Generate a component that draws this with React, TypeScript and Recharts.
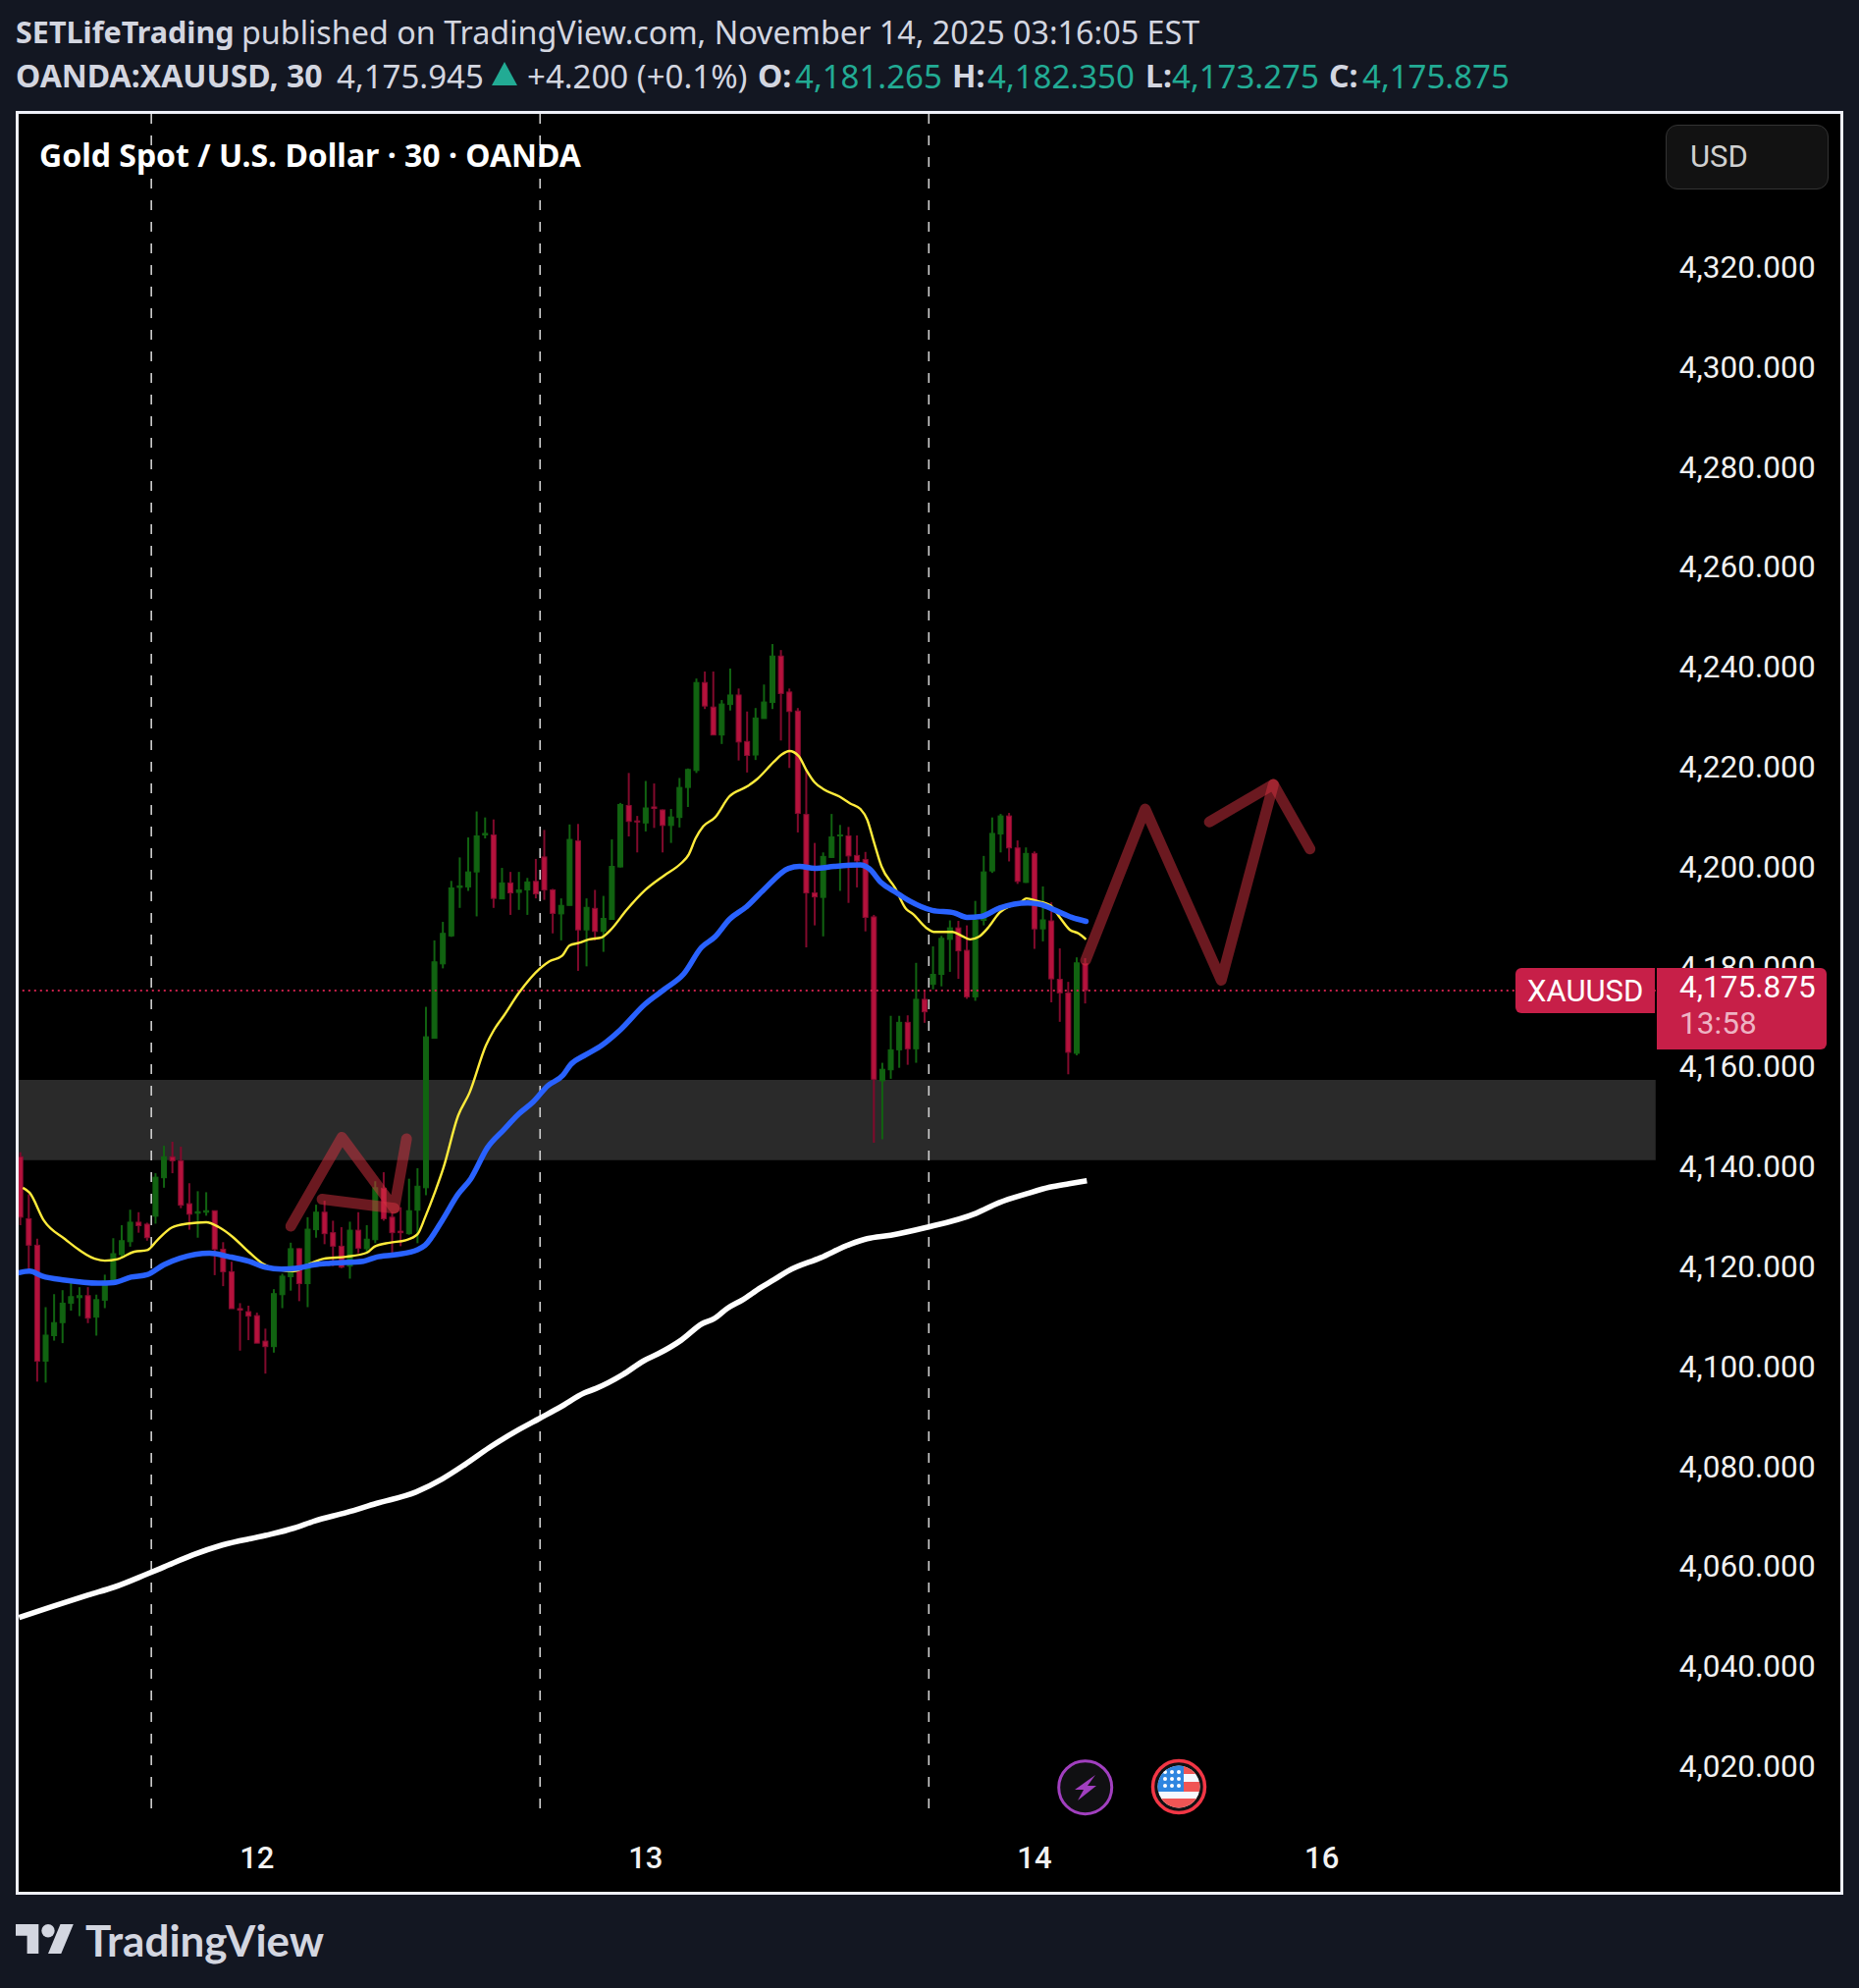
import React from "react";
import {
  Bar,
  ComposedChart,
  Line,
  ReferenceArea,
  ReferenceLine,
  XAxis,
  YAxis,
} from "recharts";

const opens = [
  4142.6, 4130.2, 4124.9, 4101.7, 4106.8, 4109.4, 4113.3, 4114.4, 4114.8, 4110.5,
  4113.9, 4117.7, 4123.0, 4125.6, 4129.5, 4129.1, 4130.7, 4138.4, 4142.6, 4141.8,
  4133.2, 4131.3, 4131.5, 4131.8, 4124.1, 4119.6, 4112.2, 4111.6, 4110.8, 4105.7,
  4104.6, 4115.0, 4118.6, 4124.2, 4117.2, 4128.0, 4131.5, 4127.4, 4124.7, 4120.7,
  4127.9, 4124.2, 4126.0, 4136.3, 4130.5, 4127.7, 4127.2, 4131.9, 4136.4, 4166.3,
  4181.2, 4186.8, 4196.5, 4196.6, 4199.6, 4207.0, 4207.0, 4194.2, 4197.4, 4195.5,
  4196.0, 4197.7, 4202.6, 4196.0, 4191.2, 4192.9, 4205.8, 4188.0, 4192.3, 4187.7,
  4190.1, 4200.6, 4212.9, 4209.8, 4209.4, 4212.6, 4212.0, 4208.9, 4210.5, 4216.5,
  4219.9, 4237.5, 4232.6, 4227.0, 4233.1, 4235.0, 4225.7, 4223.0, 4230.3, 4233.5,
  4242.8, 4235.6, 4231.8, 4211.1, 4195.4, 4194.5, 4202.5, 4206.8, 4206.8, 4202.9,
  4202.1, 4190.6, 4157.8, 4160.0, 4164.0, 4169.5, 4164.2, 4174.1, 4177.1, 4179.1,
  4186.1, 4188.4, 4183.9, 4174.6, 4189.9, 4199.8, 4207.2, 4210.8, 4204.4, 4197.5,
  4203.3, 4188.2, 4189.8, 4178.1, 4175.4, 4163.3, 4181.265,
];
const highs = [
  4143.5, 4135.1, 4126.2, 4112.5, 4115.1, 4115.9, 4118.1, 4116.5, 4116.5, 4115.0,
  4119.0, 4126.3, 4128.9, 4132.0, 4131.5, 4129.4, 4139.3, 4144.8, 4145.6, 4144.6,
  4137.3, 4135.7, 4135.5, 4131.8, 4125.5, 4121.6, 4113.3, 4112.8, 4111.4, 4108.2,
  4116.1, 4119.2, 4125.4, 4124.3, 4130.5, 4133.0, 4133.8, 4129.8, 4128.5, 4129.6,
  4131.5, 4128.9, 4137.7, 4139.5, 4131.5, 4132.5, 4138.2, 4140.3, 4172.6, 4185.9,
  4189.6, 4197.8, 4202.5, 4206.5, 4211.7, 4210.5, 4210.1, 4200.4, 4199.6, 4199.6,
  4198.4, 4202.2, 4208.0, 4196.2, 4194.3, 4209.1, 4209.2, 4194.3, 4196.0, 4194.8,
  4206.1, 4213.4, 4219.4, 4210.8, 4217.8, 4217.3, 4212.1, 4212.2, 4218.4, 4220.3,
  4238.3, 4239.7, 4239.7, 4234.0, 4240.3, 4236.3, 4231.7, 4232.4, 4237.1, 4245.2,
  4244.0, 4236.3, 4232.4, 4220.2, 4205.4, 4203.5, 4211.2, 4209.0, 4208.6, 4206.9,
  4203.6, 4191.0, 4161.4, 4170.8, 4170.8, 4170.9, 4181.4, 4176.0, 4184.7, 4186.8,
  4189.9, 4189.8, 4188.9, 4193.8, 4202.8, 4210.5, 4211.2, 4211.4, 4205.9, 4204.5,
  4203.7, 4196.7, 4193.5, 4184.3, 4177.6, 4182.5, 4182.35,
];
const lows = [
  4128.9, 4120.0, 4097.6, 4097.4, 4105.8, 4105.3, 4111.8, 4110.7, 4109.3, 4106.8,
  4112.3, 4117.7, 4122.4, 4124.6, 4127.4, 4125.8, 4129.2, 4136.4, 4139.3, 4132.3,
  4128.0, 4126.4, 4130.8, 4118.9, 4116.7, 4112.2, 4103.8, 4105.9, 4105.3, 4099.2,
  4103.4, 4112.3, 4115.8, 4113.7, 4112.5, 4126.4, 4125.1, 4120.7, 4120.3, 4118.2,
  4123.3, 4123.3, 4125.3, 4129.8, 4122.8, 4124.7, 4127.0, 4125.3, 4134.9, 4166.3,
  4180.3, 4186.6, 4192.4, 4195.8, 4190.7, 4206.3, 4192.4, 4194.2, 4191.0, 4192.0,
  4191.0, 4194.3, 4194.0, 4187.3, 4185.9, 4192.9, 4179.8, 4180.7, 4185.9, 4183.6,
  4190.1, 4200.5, 4206.7, 4203.5, 4207.7, 4208.4, 4203.5, 4205.4, 4208.5, 4212.6,
  4219.4, 4232.2, 4227.0, 4225.2, 4231.9, 4221.9, 4219.5, 4222.0, 4230.3, 4232.2,
  4225.9, 4220.4, 4207.5, 4184.5, 4188.9, 4186.7, 4202.4, 4195.8, 4193.4, 4196.5,
  4187.7, 4145.4, 4146.1, 4158.2, 4160.4, 4161.0, 4161.4, 4169.4, 4176.1, 4176.7,
  4179.6, 4178.2, 4174.2, 4173.8, 4188.9, 4199.4, 4203.5, 4201.7, 4197.2, 4197.4,
  4184.2, 4185.7, 4173.5, 4169.6, 4159.1, 4162.9, 4173.275,
];
const closes = [
  4130.5, 4124.9, 4101.7, 4106.9, 4109.4, 4113.3, 4114.6, 4114.8, 4110.3, 4114.0,
  4117.7, 4123.2, 4125.8, 4129.5, 4128.8, 4126.4, 4138.5, 4142.6, 4141.8, 4132.9,
  4131.1, 4131.6, 4131.8, 4124.1, 4119.6, 4112.2, 4111.9, 4110.7, 4105.3, 4104.6,
  4115.2, 4118.7, 4124.2, 4117.2, 4128.1, 4131.5, 4127.2, 4124.7, 4120.5, 4127.9,
  4124.3, 4126.1, 4136.4, 4130.2, 4127.4, 4127.4, 4131.8, 4136.7, 4166.6, 4181.6,
  4187.3, 4196.4, 4196.8, 4199.6, 4206.8, 4207.3, 4194.3, 4197.4, 4195.4, 4196.0,
  4197.6, 4195.2, 4196.0, 4191.3, 4192.9, 4206.1, 4188.0, 4192.5, 4187.7, 4190.3,
  4200.7, 4213.1, 4209.7, 4209.6, 4212.4, 4212.3, 4208.9, 4210.6, 4216.5, 4220.1,
  4237.5, 4232.8, 4227.0, 4233.2, 4235.0, 4225.6, 4222.9, 4230.4, 4233.6, 4242.8,
  4235.3, 4231.7, 4211.3, 4195.4, 4194.6, 4202.7, 4206.6, 4207.0, 4202.8, 4201.8,
  4190.5, 4158.1, 4160.1, 4164.0, 4169.5, 4164.2, 4174.1, 4171.6, 4179.1, 4186.3,
  4188.4, 4183.8, 4174.6, 4189.9, 4199.6, 4207.3, 4210.8, 4204.4, 4197.7, 4203.3,
  4188.2, 4190.0, 4178.2, 4175.4, 4163.5, 4181.4, 4175.875,
];

// moving averages, read as [bar index, price]
const yellowMa = [
  [0.3, 4136.4], [1.1, 4135.4], [2.8, 4129.8], [5.3, 4126.1], [8.8, 4122.2], [10, 4121.8],
  [11.5, 4122.1], [13.5, 4123.6], [15, 4123.9], [16.2, 4125.9], [17.9, 4128.4], [19.7, 4129.2],
  [22, 4129.5], [23.5, 4128.5], [25.1, 4126.6], [27, 4123.6], [28.6, 4121.3], [30.5, 4120.0],
  [32.4, 4119.7], [34.4, 4121.3], [35.9, 4122.2], [38.6, 4122.6], [41, 4123.4], [41.9, 4124.6],
  [43.7, 4125.4], [45.6, 4125.9], [47, 4127.1], [47.9, 4130.5], [49.1, 4135.7], [50.05, 4140.3],
  [51.8, 4150.8], [53.15, 4155.4], [55.1, 4164.9], [56.05, 4168.0], [57.2, 4170.8], [59, 4175.4],
  [61.5, 4180.3], [62.6, 4181.7], [64.1, 4182.8], [65, 4184.9], [66.1, 4185.4], [67.3, 4186.1],
  [68.8, 4186.5], [69.8, 4187.9], [71.7, 4191.9], [73.9, 4195.9], [76.2, 4198.9], [78.1, 4201.2],
  [79.1, 4203.1], [79.9, 4206.3], [80.8, 4208.7], [82.2, 4210.5], [83.9, 4214.7], [86, 4216.7],
  [87.2, 4218.2], [89.2, 4221.7], [90.1, 4223.1], [91, 4223.8], [92.1, 4222.8], [93, 4220.0],
  [94, 4217.5], [95, 4216.2], [96.9, 4214.7], [98.2, 4213.3], [99.4, 4212.2], [100.2, 4210.1],
  [101, 4205.6], [101.9, 4200.7], [103.5, 4196.4], [104.8, 4192.2], [105.6, 4191.2], [107.2, 4188.4],
  [108.1, 4187.6], [110.3, 4187.6], [111.4, 4186.8], [112.4, 4186.1], [113.4, 4186.6], [114.5, 4188.4],
  [115.9, 4191.5], [117.2, 4192.8], [118.4, 4193.6], [119.05, 4194.3], [120.3, 4193.8], [121.9, 4192.9],
  [123, 4190.5], [124.2, 4188.0], [125.2, 4187.3], [126.1, 4186.1],
];
const blueMa = [
  [-0.15, 4119.4], [1.1, 4119.7], [2.6, 4118.7], [5.3, 4117.9], [9.2, 4117.3], [11, 4117.4],
  [13.1, 4118.5], [15, 4119.0], [17, 4121.0], [18.9, 4122.3], [22.4, 4123.3], [24.7, 4122.6],
  [27, 4121.7], [29, 4120.5], [30.9, 4120.1], [32.8, 4120.3], [34.8, 4121.0], [36.7, 4121.3],
  [40.6, 4121.7], [42.1, 4122.5], [44.4, 4123.0], [47, 4124.0], [47.9, 4124.9], [49.9, 4129.8],
  [51.8, 4135.1], [53.3, 4138.2], [55.3, 4144.5], [57.2, 4148.0], [59, 4151.2], [60.7, 4153.6],
  [62.4, 4156.8], [64.2, 4158.9], [65.1, 4161.0], [66.9, 4163.0], [68.8, 4164.9], [71, 4168.0],
  [73.9, 4173.1], [76.2, 4176.1], [78.5, 4179.2], [80.6, 4184.5], [82.2, 4186.6], [83.9, 4190.1],
  [85.9, 4192.6], [88, 4196.1], [90.9, 4200.3], [92.2, 4200.7], [94, 4200.3], [96.3, 4200.7],
  [99.4, 4201.0], [100.4, 4200.3], [101.9, 4197.4], [103.7, 4195.4], [105.2, 4193.8], [107.9, 4191.9],
  [110.5, 4191.4], [112, 4190.5], [113.7, 4190.7], [115.9, 4192.4], [119.2, 4193.4], [120.7, 4193.1],
  [122.5, 4191.9], [124.4, 4190.5], [126.1, 4189.7],
];
const whiteMa = [
  [-0.15, 4050.4], [3.8, 4052.6], [8.05, 4054.9], [11.15, 4056.5], [15, 4059.1], [17, 4060.5],
  [20.4, 4062.9], [23.9, 4064.9], [29, 4066.8], [32.4, 4068.3], [34.8, 4069.7], [38.6, 4071.4],
  [42.1, 4073.2], [46.8, 4075.5], [49.9, 4078.1], [52.6, 4081.0], [55.5, 4084.4], [58.9, 4087.9],
  [61.4, 4090.2], [63.9, 4092.5], [66.7, 4095.3], [68.1, 4096.2], [71.3, 4099.0], [73.8, 4101.8],
  [75.4, 4103.1], [78.2, 4105.9], [80.7, 4109.2], [82.1, 4110.2], [83.7, 4112.3], [85.5, 4114.0],
  [87.6, 4116.4], [89.2, 4118.0], [90.8, 4119.7], [94.7, 4122.4], [98.2, 4125.1], [100.2, 4126.2],
  [103, 4126.9], [107.1, 4128.4], [113.1, 4131.3], [115.8, 4133.4], [119.1, 4135.2], [121.8, 4136.5],
  [124.1, 4137.2], [126.2, 4137.8],
];

// hand drawn arrows on the chart
const smallZigzag = [[32, 4128.7], [38.05, 4146.5], [44.25, 4132.3], [45.7, 4146.2]];
const smallHead = [[35.7, 4134.1], [44.25, 4132.3]];
const bigZigzag = [[126.05, 4181.9], [133.1, 4212.2], [142.1, 4177.9], [148.27, 4217.1]];
const bigHead = [[140.7, 4209.6], [148.27, 4217.1], [152.6, 4204.2]];

const priceTicks = [
  4020, 4040, 4060, 4080, 4100, 4120, 4140, 4160, 4180, 4200, 4220, 4240, 4260, 4280, 4300, 4320,
];
const dayTicks = [28, 74, 120, 154];
const dayLabels = ["12", "13", "14", "16"];
const sessionBreaks = [15.5, 61.5, 107.5];
const zoneTop = 4158.0;
const zoneBottom = 4141.9;
const lastPrice = 4175.875;

const candles = opens.map((open, i) => ({
  i,
  open,
  close: closes[i],
  range: [lows[i], highs[i]],
}));

const toRows = (pts: number[][]) => pts.map(([i, p]) => ({ i, p }));

function Candle(props: any) {
  const { x, y, width, height, payload } = props;
  const [low, high] = payload.range;
  const at = (price: number) => y + ((high - price) / (high - low)) * height;
  const up = payload.close >= payload.open;
  const top = at(Math.max(payload.open, payload.close));
  const bottom = at(Math.min(payload.open, payload.close));
  const cx = x + width / 2;
  const wick = up ? "#116311" : "#800a2c";
  return (
    <g>
      <rect x={cx - 1} y={y} width={2} height={height} fill={wick} />
      <rect
        x={cx - 2.5}
        y={top}
        width={5}
        height={Math.max(bottom - top, 1)}
        fill={up ? "#116311" : "#b5123c"}
        stroke={up ? "#116311" : "#860c30"}
        strokeWidth={1}
      />
    </g>
  );
}

const headerFont = "'Noto Sans', sans-serif";
const axisFont = "Roboto, sans-serif";

function Txt({ x, y, size = 32, color = "#d3d6e0", weight = 400, font = headerFont, children }: any) {
  return (
    <span
      style={{
        position: "absolute",
        left: x,
        top: y,
        transform: "translateY(-50%)",
        fontFamily: font,
        fontSize: size,
        fontWeight: weight,
        color,
        whiteSpace: "pre",
        lineHeight: 1,
      }}
    >
      {children}
    </span>
  );
}

function Icons() {
  return (
    <svg
      width={1894}
      height={2025}
      style={{ position: "absolute", left: 0, top: 0, pointerEvents: "none" }}
    >
      <defs>
        <clipPath id="flag">
          <circle cx={1201} cy={1820} r={21.5} />
        </clipPath>
      </defs>
      <circle cx={1105.7} cy={1820.7} r={27} fill="#101012" stroke="#a13fbf" strokeWidth={3} />
      <path d="M1116 1808 L1095 1823 L1104 1823 L1098 1834 L1117 1819 L1108 1819 Z" fill="#a13fbf" />
      <circle cx={1201} cy={1820} r={26.5} fill="#101012" stroke="#f23645" strokeWidth={3.5} />
      <g clipPath="url(#flag)">
        <rect x={1179} y={1798} width={44} height={44} fill="#f6f8ff" />
        <rect x={1206} y={1798} width={18} height={9} fill="#f05555" />
        <rect x={1206} y={1815} width={18} height={10} fill="#f05555" />
        <rect x={1179} y={1832} width={44} height={10} fill="#f05555" />
        <rect x={1179} y={1798} width={27} height={27} fill="#2f86e0" />
        {[1187, 1194, 1201].map((cx) =>
          [1805, 1812, 1819].map((cy) => <circle key={cx + "-" + cy} cx={cx} cy={cy} r={2} fill="#fff" />)
        )}
      </g>
      <path d="M16 1960 H39.3 V1990 H27.6 V1971.7 H16 Z M49 1990 L61.5 1960 H74.8 L62.3 1990 Z" fill="#d3d6e0" />
      <circle cx={49} cy={1966.7} r={6.7} fill="#d3d6e0" />
    </svg>
  );
}

export default function App() {
  return (
    <div
      style={{
        position: "absolute",
        left: 0,
        top: 0,
        width: 1894,
        height: 2025,
        background: "#131722",
        overflow: "hidden",
      }}
    >
      <Txt x={16} y={32} size={30.5} weight={700}>SETLifeTrading</Txt>
      <Txt x={246} y={32} size={32.3}>published on TradingView.com, November 14, 2025 03:16:05 EST</Txt>
      <Txt x={16} y={77} weight={700}>OANDA:XAUUSD, 30</Txt>
      <Txt x={343} y={77} size={33}>4,175.945</Txt>
      <svg width={26} height={24} style={{ position: "absolute", left: 501, top: 63 }}>
        <path d="M13 0 L26 24 H0 Z" fill="#22ab94" />
      </svg>
      <Txt x={537} y={77} size={33}>+4.200 (+0.1%)</Txt>
      <Txt x={772} y={77} weight={700}>O:</Txt>
      <Txt x={810} y={77} size={33} color="#22ab94">4,181.265</Txt>
      <Txt x={970} y={77} weight={700}>H:</Txt>
      <Txt x={1006} y={77} size={33} color="#22ab94">4,182.350</Txt>
      <Txt x={1167} y={77} weight={700}>L:</Txt>
      <Txt x={1194} y={77} size={33} color="#22ab94">4,173.275</Txt>
      <Txt x={1354} y={77} weight={700}>C:</Txt>
      <Txt x={1388} y={77} size={33} color="#22ab94">4,175.875</Txt>

      <div style={{ position: "absolute", left: 16, top: 113, width: 1862, height: 1817, background: "#000" }} />

      <div style={{ position: "absolute", left: 0, top: 0 }}>
        <ComposedChart
          width={1894}
          height={2025}
          data={candles}
          margin={{ top: 116, right: 0, bottom: 123, left: 16.4 }}
          style={{ background: "transparent" }}
        >
          <XAxis
            dataKey="i"
            type="number"
            domain={[-0.5, 193.5]}
            ticks={dayTicks}
            interval={0}
            height={60}
            axisLine={false}
            tickLine={false}
            tickMargin={32.5}
            tick={{ fill: "#f2f2f2", fontSize: 31, fontWeight: 500, fontFamily: axisFont }}
            tickFormatter={(v) => dayLabels[dayTicks.indexOf(v)]}
          />
          <YAxis
            orientation="right"
            type="number"
            width={207.2}
            domain={[4012.2, 4351.3]}
            ticks={priceTicks}
            interval={0}
            axisLine={false}
            tickLine={false}
            tickMargin={18}
            tick={{ fill: "#f0f0f0", fontSize: 31.6, fontFamily: axisFont, dy: -3.5 }}
            tickFormatter={(v) => v.toLocaleString("en-US", { minimumFractionDigits: 3 })}
          />
          {sessionBreaks.map((x) => (
            <ReferenceLine key={x} x={x} stroke="#cfcfcf" strokeWidth={1.6} strokeDasharray="10 12" />
          ))}
          <ReferenceArea y1={zoneBottom} y2={zoneTop} fill="#404040" fillOpacity={0.66} stroke="none" />
          <ReferenceLine y={lastPrice} stroke="#c8204a" strokeWidth={2} strokeDasharray="2 4" />
          <Line data={toRows(whiteMa)} dataKey="p" type="monotone" stroke="#ffffff" strokeWidth={5.6} dot={false} isAnimationActive={false} />
          <Line data={toRows(yellowMa)} dataKey="p" type="monotone" stroke="#ffeb3b" strokeWidth={2.4} dot={false} isAnimationActive={false} />
          <Line data={toRows(blueMa)} dataKey="p" type="monotone" stroke="#2962ff" strokeWidth={5.5} strokeLinecap="round" dot={false} isAnimationActive={false} />
          <Bar dataKey="range" barSize={6} shape={<Candle />} isAnimationActive={false} />
          {[smallZigzag, smallHead, bigZigzag, bigHead].map((pts, n) => (
            <Line
              key={n}
              data={toRows(pts)}
              dataKey="p"
              type="linear"
              stroke="#d63240"
              strokeOpacity={0.5}
              strokeWidth={11}
              strokeLinecap="round"
              strokeLinejoin="round"
              dot={false}
              isAnimationActive={false}
            />
          ))}
        </ComposedChart>
      </div>

      <div style={{ position: "absolute", left: 1544, top: 986, width: 142, height: 46, background: "#c71f48", borderRadius: "6px 0 0 6px" }} />
      <div style={{ position: "absolute", left: 1688, top: 986, width: 173, height: 83, background: "#c71f48", borderRadius: "0 6px 6px 0" }} />
      <Txt x={1556} y={1009} size={31} font={axisFont} color="#fff">XAUUSD</Txt>
      <Txt x={1711} y={1006} size={31.6} font={axisFont} color="#fff">4,175.875</Txt>
      <Txt x={1711} y={1043} size={31.6} font={axisFont} color="#eeb3c3">13:58</Txt>

      <div style={{ position: "absolute", left: 1697, top: 127, width: 164, height: 64, background: "#121212", border: "1px solid #333", borderRadius: 12 }} />
      <Txt x={1722} y={159} font={axisFont} size={31} color="#d0d0d0">USD</Txt>

      <Txt x={40} y={158} weight={700} color="#fff">Gold Spot / U.S. Dollar · 30 · OANDA</Txt>

      <div style={{ position: "absolute", left: 16, top: 113, width: 1856, height: 1811, border: "3px solid #eef0f8", pointerEvents: "none" }} />

      <Icons />
      <Txt x={87} y={1976} size={44} weight={700} font="Lato, sans-serif" color="#d3d6e0">TradingView</Txt>
    </div>
  );
}
